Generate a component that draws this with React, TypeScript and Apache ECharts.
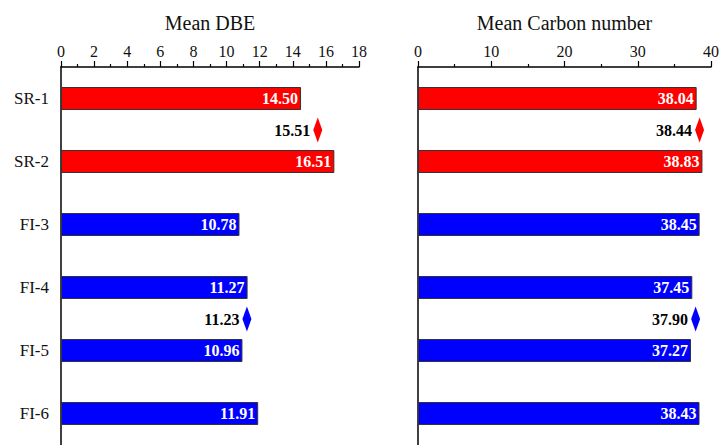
import React, { useEffect, useRef } from "react";
import * as echarts from "echarts";

// ---- data ----
const samples = ["SR-1", "SR-2", "FI-3", "FI-4", "FI-5", "FI-6"];
const sampleGroup = ["SR", "SR", "FI", "FI", "FI", "FI"];
const meanDbe = [14.5, 16.51, 10.78, 11.27, 10.96, 11.91];
const meanCarbon = [38.04, 38.83, 38.45, 37.45, 37.27, 38.43];
const groups = ["SR", "FI"];
const groupMeanDbe = [15.51, 11.23];
const groupMeanCarbon = [38.44, 37.9];
const dbeTicks = { min: 0, max: 18, interval: 2 };
const carbonTicks = { min: 0, max: 40, interval: 10 };

// slot layout on the category axis (half-row steps)
const slotCount = 25;
const sampleSlots = [2, 6, 10, 14, 18, 22];
const groupSlots = [4, 16];

const groupColor: Record<string, string> = { SR: "#ff0000", FI: "#0000ff" };
const FONT = "Liberation Serif";

const slotLabels: string[] = Array.from({ length: slotCount }, () => "");
sampleSlots.forEach((s, i) => (slotLabels[s] = samples[i]));

function barData(values: number[]) {
  const arr: any[] = Array.from({ length: slotCount }, () => "-");
  sampleSlots.forEach((s, i) => {
    arr[s] = { value: values[i], itemStyle: { color: groupColor[sampleGroup[i]] } };
  });
  return arr;
}

function meanData(values: number[]) {
  return groups.map((g, i) => ({
    value: [values[i], groupSlots[i]],
    itemStyle: { color: groupColor[g], opacity: 1 },
  }));
}

export default function App() {
  const ref = useRef<HTMLDivElement>(null);
  useEffect(() => {
    if (!ref.current) return;
    const chart = echarts.init(ref.current, undefined, { renderer: "svg" });
    const xAxisBase = (name: string, t: any) => ({
      type: "value",
      position: "top",
      min: t.min,
      max: t.max,
      interval: t.interval,
      name,
      nameLocation: "middle",
      nameGap: 34,
      nameTextStyle: { fontFamily: FONT, fontSize: 20, color: "#111" },
      axisLine: { show: true, lineStyle: { color: "#000", width: 1.5 } },
      axisTick: { show: true, inside: false, length: 6, lineStyle: { color: "#000", width: 1.2 } },
      minorTick: { show: true, splitNumber: 2, length: 3, lineStyle: { color: "#000", width: 1.2 } },
      splitLine: { show: false },
      axisLabel: { fontFamily: FONT, fontSize: 16, color: "#111", margin: 8 },
    });
    const yAxisBase = (gridIndex: number, showLabels: boolean) => ({
      type: "category",
      gridIndex,
      data: slotLabels,
      inverse: true,
      boundaryGap: false,
      axisLine: { show: true, onZero: false, lineStyle: { color: "#000", width: 1.5 } },
      axisTick: { show: false },
      splitLine: { show: false },
      axisLabel: {
        show: showLabels,
        interval: 0,
        fontFamily: FONT,
        fontSize: 17,
        color: "#111",
        margin: 12,
      },
    });
    const barLabel = {
      show: true,
      position: "insideRight",
      distance: 3,
      color: "#fff",
      fontFamily: FONT,
      fontWeight: "bold",
      fontSize: 16,
      formatter: (p: any) => Number(p.value).toFixed(2),
    };
    const meanLabel = {
      show: true,
      position: "left",
      distance: 3,
      color: "#000",
      opacity: 1,
      fontFamily: FONT,
      fontWeight: "bold",
      fontSize: 16,
      formatter: (p: any) => Number(p.value[0]).toFixed(2),
    };
    chart.setOption({
      animation: false,
      backgroundColor: "#fff",
      grid: [
        { left: 61, right: 363, top: 67, bottom: -5 },
        { left: 418, right: 8, top: 67, bottom: -5 },
      ],
      xAxis: [
        { ...xAxisBase("Mean DBE", dbeTicks), gridIndex: 0 },
        { ...xAxisBase("Mean Carbon number", carbonTicks), gridIndex: 1 },
      ],
      yAxis: [yAxisBase(0, true), yAxisBase(1, false)],
      series: [
        {
          type: "bar",
          xAxisIndex: 0,
          yAxisIndex: 0,
          barWidth: 23,
          data: barData(meanDbe),
          itemStyle: { borderColor: "#333", borderWidth: 1 },
          label: barLabel,
        },
        {
          type: "bar",
          xAxisIndex: 1,
          yAxisIndex: 1,
          barWidth: 23,
          data: barData(meanCarbon),
          itemStyle: { borderColor: "#333", borderWidth: 1 },
          label: barLabel,
        },
        {
          type: "scatter",
          xAxisIndex: 0,
          yAxisIndex: 0,
          symbol: "diamond",
          symbolSize: [9, 25],
          itemStyle: { opacity: 1 },
          data: meanData(groupMeanDbe),
          label: meanLabel,
        },
        {
          type: "scatter",
          xAxisIndex: 1,
          yAxisIndex: 1,
          symbol: "diamond",
          symbolSize: [9, 25],
          itemStyle: { opacity: 1 },
          data: meanData(groupMeanCarbon),
          label: meanLabel,
        },
      ],
    });
    return () => chart.dispose();
  }, []);
  return (
    <div
      ref={ref}
      style={{ position: "fixed", left: 0, top: 0, width: 722, height: 445, background: "#fff" }}
    />
  );
}
